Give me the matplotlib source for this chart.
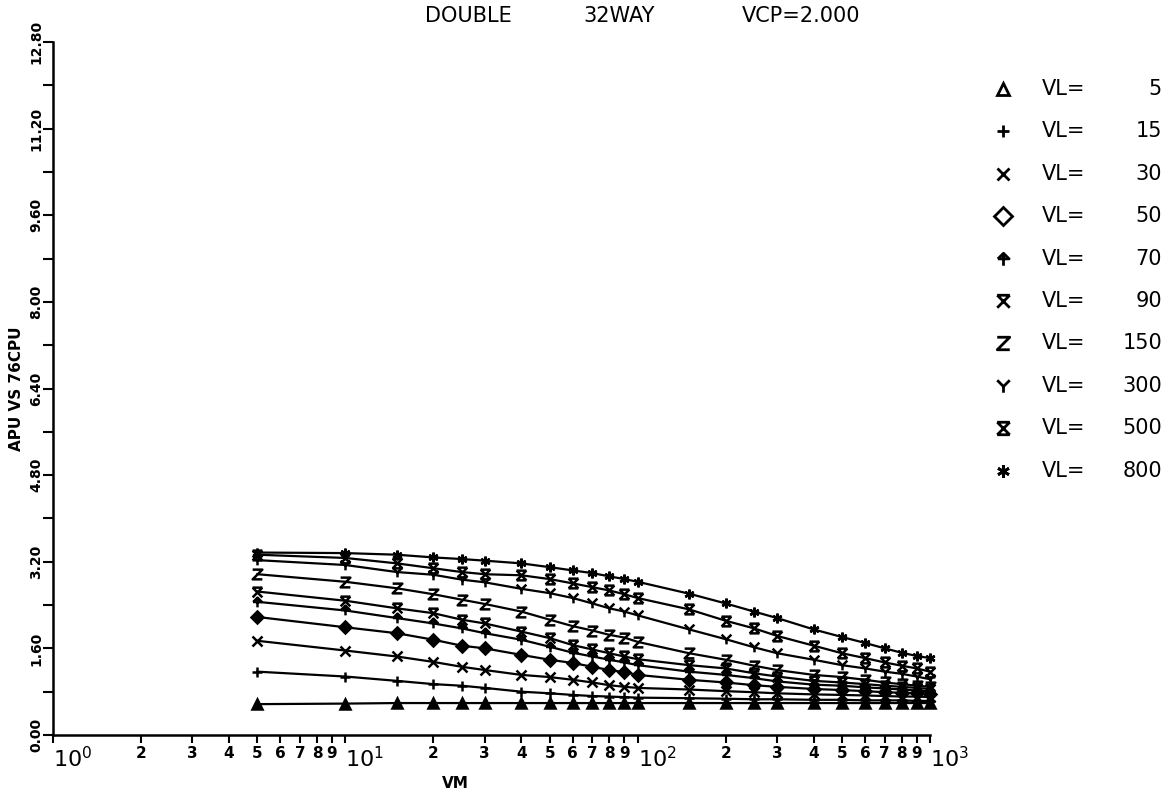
#!/usr/bin/env python3
"""APU vs 76CPU speedup against VM, one curve per vector length (DOUBLE, 32WAY, VCP=2.000)."""

import numpy as np
import matplotlib
matplotlib.use("Agg")
import matplotlib.pyplot as plt
from matplotlib.path import Path
from matplotlib.ticker import FixedLocator, FuncFormatter

VM = [5, 10, 15, 20, 25, 30, 40, 50, 60, 70, 80, 90, 100,
      150, 200, 250, 300, 400, 500, 600, 700, 800, 900, 1000]
VL = [5, 15, 30, 50, 70, 90, 150, 300, 500, 800]

APU_VL5 = [0.57, 0.58, 0.59, 0.59, 0.59, 0.59, 0.59, 0.59, 0.59, 0.59, 0.59, 0.59,
           0.59, 0.59, 0.59, 0.59, 0.59, 0.59, 0.59, 0.59, 0.59, 0.59, 0.59, 0.59]
APU_VL15 = [1.17, 1.08, 1.00, 0.94, 0.91, 0.87, 0.80, 0.77, 0.74, 0.72, 0.71, 0.70,
            0.69, 0.68, 0.67, 0.66, 0.66, 0.65, 0.65, 0.64, 0.64, 0.64, 0.63, 0.63]
APU_VL30 = [1.74, 1.56, 1.45, 1.35, 1.26, 1.20, 1.11, 1.07, 1.02, 0.97, 0.92, 0.89,
            0.87, 0.84, 0.81, 0.79, 0.77, 0.75, 0.74, 0.73, 0.72, 0.71, 0.71, 0.70]
APU_VL50 = [2.18, 1.99, 1.88, 1.76, 1.65, 1.60, 1.48, 1.39, 1.33, 1.26, 1.20, 1.16,
            1.11, 1.02, 0.97, 0.92, 0.89, 0.85, 0.83, 0.81, 0.79, 0.78, 0.77, 0.76]
APU_VL70 = [2.46, 2.30, 2.16, 2.06, 1.97, 1.88, 1.76, 1.63, 1.52, 1.45, 1.39, 1.34,
            1.29, 1.17, 1.11, 1.05, 0.99, 0.93, 0.91, 0.88, 0.86, 0.84, 0.82, 0.81]
APU_VL90 = [2.65, 2.48, 2.34, 2.25, 2.13, 2.06, 1.91, 1.79, 1.66, 1.58, 1.51, 1.45,
            1.40, 1.29, 1.23, 1.14, 1.08, 1.00, 0.97, 0.94, 0.91, 0.89, 0.87, 0.85]
APU_VL150 = [2.97, 2.83, 2.71, 2.60, 2.50, 2.42, 2.28, 2.13, 2.01, 1.93, 1.85, 1.80,
             1.72, 1.51, 1.39, 1.28, 1.20, 1.11, 1.07, 1.02, 0.97, 0.94, 0.91, 0.89]
APU_VL300 = [3.23, 3.14, 3.01, 2.96, 2.87, 2.82, 2.70, 2.62, 2.53, 2.43, 2.34, 2.28,
             2.21, 1.95, 1.77, 1.62, 1.51, 1.39, 1.29, 1.23, 1.17, 1.13, 1.08, 1.03]
APU_VL500 = [3.33, 3.27, 3.17, 3.08, 3.01, 2.97, 2.95, 2.88, 2.80, 2.73, 2.67, 2.60,
             2.53, 2.32, 2.11, 1.97, 1.83, 1.65, 1.51, 1.42, 1.34, 1.28, 1.23, 1.17]
APU_VL800 = [3.37, 3.36, 3.33, 3.28, 3.25, 3.22, 3.17, 3.10, 3.04, 2.99, 2.93, 2.88,
             2.83, 2.61, 2.43, 2.28, 2.16, 1.95, 1.81, 1.70, 1.60, 1.52, 1.46, 1.42]

SERIES = [APU_VL5, APU_VL15, APU_VL30, APU_VL50, APU_VL70,
          APU_VL90, APU_VL150, APU_VL300, APU_VL500, APU_VL800]

Y_TICKS = [0.0, 1.6, 3.2, 4.8, 6.4, 8.0, 9.6, 11.2, 12.8]
TITLE_WORDS = ["DOUBLE", "32WAY", "VCP=2.000"]


def seg_path(segs):
    verts, codes = [], []
    for seg in segs:
        for i, p in enumerate(seg):
            verts.append(p)
            codes.append(Path.MOVETO if i == 0 else Path.LINETO)
    return Path(verts, codes)


M_ARROW = seg_path([[(0, -1), (0, 1)], [(-0.9, 0.1), (0, 1), (0.9, 0.1), (-0.9, 0.1)]])
M_HOURGLASS = seg_path([[(-1, 1), (1, 1)], [(-1, 1), (1, -1)], [(1, 1), (-1, -1)]])
M_Z = seg_path([[(-1, 1), (1, 1), (-1, -1), (1, -1)]])
M_Y = seg_path([[(-1, 1), (0, 0), (1, 1)], [(0, 0), (0, -1)]])
M_XBOX = seg_path([[(-1, 1), (1, 1)], [(-1, -1), (1, -1)],
                   [(-1, 1), (1, -1)], [(1, 1), (-1, -1)]])

# (marker, filled)
MARKERS = [("^", True), ("+", False), ("x", False), ("D", True), (M_ARROW, False),
           (M_HOURGLASS, False), (M_Z, False), (M_Y, False), (M_XBOX, False),
           ((6, 2, 0), False)]


def main():
    W, H = 1174, 796
    fig = plt.figure(figsize=(W / 100, H / 100), dpi=100)
    ax = fig.add_axes([53 / W, 61 / H, 877 / W, 693 / H])

    for vals, (mk, filled) in zip(SERIES, MARKERS):
        ax.plot(VM, vals, color="black", lw=1.6, marker=mk,
                ms=6 if mk == "D" else 7, mew=1.8,
                mfc="black" if filled else "none", mec="black", clip_on=False)

    ax.set_xscale("log")
    ax.set_xlim(1, 1000)
    ax.set_ylim(0, 12.8)

    for side in ("top", "right"):
        ax.spines[side].set_visible(False)
    for side in ("left", "bottom"):
        ax.spines[side].set_linewidth(1.8)

    # x axis: decades plus 2..9 subdivisions, all labelled
    ax.xaxis.set_major_locator(FixedLocator([1, 10, 100, 1000]))
    minors = [m * 10 ** k for k in range(3) for m in range(2, 10)]
    ax.xaxis.set_minor_locator(FixedLocator(minors))
    ax.xaxis.set_major_formatter(FuncFormatter(lambda v, p: r"$10^{%d}$" % round(np.log10(v))))
    ax.xaxis.set_minor_formatter(FuncFormatter(lambda v, p: "%d" % round(v / 10 ** np.floor(np.log10(v) + 1e-9))))
    ax.tick_params(axis="x", which="both", direction="out", length=6, width=1.5, pad=2)
    ax.tick_params(axis="x", which="major", labelsize=16)
    ax.tick_params(axis="x", which="minor", labelsize=11)
    for lbl in ax.get_xticklabels():
        lbl.set_horizontalalignment("left")
    for lbl in ax.get_xticklabels(minor=True):
        lbl.set_fontweight("bold")

    # y axis: labelled every 1.6, half steps unlabelled
    ax.yaxis.set_major_locator(FixedLocator(Y_TICKS))
    ax.yaxis.set_minor_locator(FixedLocator([v + 0.8 for v in Y_TICKS[:-1]]))
    ax.yaxis.set_major_formatter(FuncFormatter(lambda v, p: "%.2f" % v))
    ax.tick_params(axis="y", which="both", direction="out", length=7, width=1.5, pad=0, labelsize=10)
    for lbl in ax.get_yticklabels():
        lbl.set_rotation(90)
        lbl.set_verticalalignment("center")
        lbl.set_fontweight("bold")

    ax.set_ylabel("APU VS 76CPU", fontsize=11, fontweight="bold", labelpad=4)
    ax.set_xlabel("VM", fontsize=11, fontweight="bold", va="center")
    ax.xaxis.set_label_coords((455 - 53) / 877, -48 / 693)

    # overlay in pixel coordinates for the title and the legend
    lg = fig.add_axes([0, 0, 1, 1], facecolor="none")
    lg.set_xlim(0, W)
    lg.set_ylim(H, 0)
    lg.axis("off")

    for x, word in zip([425, 583, 742], TITLE_WORDS):
        lg.text(x, 16, word, fontsize=15, ha="left", va="center")

    for i, (v, (mk, filled)) in enumerate(zip(VL, MARKERS)):
        y = 89 + 42.4 * i
        lg.plot([1003], [y], marker=mk, ms=9, mew=2.0, color="black",
                mfc="none", mec="black")
        lg.text(1042, y, "VL=", fontsize=15, ha="left", va="center")
        lg.text(1162, y, str(v), fontsize=15, ha="right", va="center")

    fig.savefig("out.png", dpi=100)
    plt.close(fig)


if __name__ == "__main__":
    main()
